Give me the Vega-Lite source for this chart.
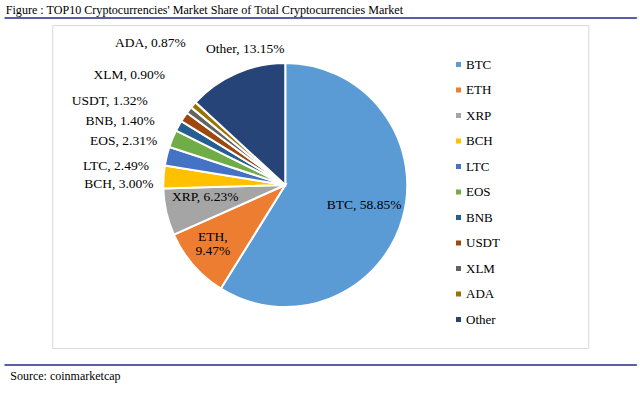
{
  "$schema": "https://vega.github.io/schema/vega-lite/v6.json",
  "padding": {"left": 3, "right": 5, "top": 4, "bottom": 5},
  "title": {
    "text": "Figure : TOP10 Cryptocurrencies' Market Share of Total Cryptocurrencies Market",
    "anchor": "start", "frame": "bounds", "font": "Liberation Serif", "fontSize": 12.1,
    "fontWeight": "normal", "color": "#000000", "offset": 0, "dx": 2
  },
  "config": {"view": {"stroke": null}, "font": "Liberation Serif"},
  "datasets": {
    "crypto": [
      {"name": "BTC", "share": 58.85, "order": 1},
      {"name": "ETH", "share": 9.47, "order": 2},
      {"name": "XRP", "share": 6.23, "order": 3},
      {"name": "BCH", "share": 3.00, "order": 4},
      {"name": "LTC", "share": 2.49, "order": 5},
      {"name": "EOS", "share": 2.31, "order": 6},
      {"name": "BNB", "share": 1.40, "order": 7},
      {"name": "USDT", "share": 1.32, "order": 8},
      {"name": "XLM", "share": 0.90, "order": 9},
      {"name": "ADA", "share": 0.87, "order": 10},
      {"name": "Other", "share": 13.15, "order": 11}
    ],
    "blank": []
  },
  "spacing": 5,
  "center": true,
  "vconcat": [
    {
      "width": 632, "height": 1,
      "data": {"name": "blank"},
      "mark": {"type": "text", "text": ""},
      "encoding": {},
      "view": {"stroke": "#5c5fa8", "strokeWidth": 1}
    },
    {
      "width": 536, "height": 323,
      "view": {"stroke": "#d9d9d9", "strokeWidth": 1},
      "data": {"name": "crypto"},
      "transform": [
        {"stack": "share", "groupby": [], "sort": [{"field": "order", "order": "ascending"}], "as": ["s0", "s1"]},
        {"calculate": "(datum.s0 + datum.s1) / 2", "as": "mid"},
        {"calculate": "datum.name + ', ' + format(datum.share, '.2f') + '%'", "as": "label"},
        {"calculate": "datum.name + ',\\n' + format(datum.share, '.2f') + '%'", "as": "label2"}
      ],
      "layer": [
        {
          "mark": {"type": "arc", "radius": 122, "x": 233, "y": 160, "stroke": "#ffffff", "strokeWidth": 2},
          "encoding": {
            "theta": {"field": "s0", "type": "quantitative", "scale": {"domain": [0, 99.99]}},
            "theta2": {"field": "s1"},
            "color": {
              "field": "name", "type": "nominal",
              "scale": {
                "domain": ["BTC", "ETH", "XRP", "BCH", "LTC", "EOS", "BNB", "USDT", "XLM", "ADA", "Other"],
                "range": ["#5B9BD5", "#ED7D31", "#A5A5A5", "#FFC000", "#4472C4", "#70AD47", "#255E91", "#9E480E", "#636363", "#997300", "#264478"]
              },
              "legend": {
                "orient": "none", "legendX": 448, "legendY": 41, "title": null,
                "symbolType": "square", "symbolSize": 25, "symbolStrokeWidth": 0,
                "labelFont": "Liberation Serif", "labelFontSize": 13, "labelColor": "#000000",
                "labelOffset": 1, "rowPadding": 11.5, "padding": 0
              }
            },
            "order": {"field": "order", "type": "quantitative"}
          }
        },
        {
          "transform": [{"filter": "datum.name == 'BTC'"}],
          "mark": {"type": "text", "radius": 82, "x": 233, "y": 160, "dy": -3, "font": "Liberation Serif", "fontSize": 13.5, "color": "#000000", "align": "center", "baseline": "middle"},
          "encoding": {"theta": {"field": "mid", "type": "quantitative"}, "text": {"field": "label"}}
        },
        {
          "transform": [{"filter": "datum.name == 'XRP'"}],
          "mark": {"type": "text", "radius": 82, "x": 233, "y": 160, "dy": -6, "font": "Liberation Serif", "fontSize": 13.5, "color": "#000000", "align": "center", "baseline": "middle"},
          "encoding": {"theta": {"field": "mid", "type": "quantitative"}, "text": {"field": "label"}}
        },
        {
          "transform": [{"filter": "datum.name == 'ETH'"}],
          "mark": {"type": "text", "radius": 96, "x": 233, "y": 160, "dy": -11, "font": "Liberation Serif", "fontSize": 13.5, "color": "#000000", "align": "center", "baseline": "middle", "lineBreak": "\n", "lineHeight": 14},
          "encoding": {"theta": {"field": "mid", "type": "quantitative"}, "text": {"field": "label2"}}
        },
        {
          "transform": [{"filter": "datum.name == 'Other'"}],
          "mark": {"type": "text", "radius": 142, "x": 233, "y": 160, "dx": 17, "dy": -6, "font": "Liberation Serif", "fontSize": 13.5, "color": "#000000", "align": "center", "baseline": "middle"},
          "encoding": {"theta": {"field": "mid", "type": "quantitative"}, "text": {"field": "label"}}
        },
        {
          "transform": [{"filter": "datum.name == 'BCH'"}],
          "mark": {"type": "text", "radius": 132, "x": 233, "y": 160, "dx": 0, "dy": 8, "font": "Liberation Serif", "fontSize": 13.5, "color": "#000000", "align": "right", "baseline": "middle"},
          "encoding": {"theta": {"field": "mid", "type": "quantitative"}, "text": {"field": "label"}}
        },
        {
          "transform": [{"filter": "datum.name == 'LTC'"}],
          "mark": {"type": "text", "radius": 132, "x": 233, "y": 160, "dx": -8, "dy": 12, "font": "Liberation Serif", "fontSize": 13.5, "color": "#000000", "align": "right", "baseline": "middle"},
          "encoding": {"theta": {"field": "mid", "type": "quantitative"}, "text": {"field": "label"}}
        },
        {
          "transform": [{"filter": "datum.name == 'EOS'"}],
          "mark": {"type": "text", "radius": 132, "x": 233, "y": 160, "dx": -6, "dy": 6, "font": "Liberation Serif", "fontSize": 13.5, "color": "#000000", "align": "right", "baseline": "middle"},
          "encoding": {"theta": {"field": "mid", "type": "quantitative"}, "text": {"field": "label"}}
        },
        {
          "transform": [{"filter": "datum.name == 'BNB'"}],
          "mark": {"type": "text", "radius": 132, "x": 233, "y": 160, "dx": -15, "dy": 0, "font": "Liberation Serif", "fontSize": 13.5, "color": "#000000", "align": "right", "baseline": "middle"},
          "encoding": {"theta": {"field": "mid", "type": "quantitative"}, "text": {"field": "label"}}
        },
        {
          "transform": [{"filter": "datum.name == 'USDT'"}],
          "mark": {"type": "text", "radius": 132, "x": 233, "y": 160, "dx": -28, "dy": -10, "font": "Liberation Serif", "fontSize": 13.5, "color": "#000000", "align": "right", "baseline": "middle"},
          "encoding": {"theta": {"field": "mid", "type": "quantitative"}, "text": {"field": "label"}}
        },
        {
          "transform": [{"filter": "datum.name == 'XLM'"}],
          "mark": {"type": "text", "radius": 132, "x": 233, "y": 160, "dx": -16, "dy": -29, "font": "Liberation Serif", "fontSize": 13.5, "color": "#000000", "align": "right", "baseline": "middle"},
          "encoding": {"theta": {"field": "mid", "type": "quantitative"}, "text": {"field": "label"}}
        },
        {
          "transform": [{"filter": "datum.name == 'ADA'"}],
          "mark": {"type": "text", "radius": 132, "x": 233, "y": 160, "dx": 0, "dy": -55, "font": "Liberation Serif", "fontSize": 13.5, "color": "#000000", "align": "right", "baseline": "middle"},
          "encoding": {"theta": {"field": "mid", "type": "quantitative"}, "text": {"field": "label"}}
        }
      ]
    },
    {
      "width": 632, "height": 4,
      "data": {"name": "blank"},
      "mark": {"type": "text", "text": ""},
      "encoding": {}
    },
    {
      "width": 632, "height": 1,
      "data": {"name": "blank"},
      "mark": {"type": "text", "text": ""},
      "encoding": {},
      "view": {"stroke": "#5c5fa8", "strokeWidth": 1},
      "title": {
        "text": "Source: coinmarketcap", "orient": "bottom", "anchor": "start", "frame": "group",
        "font": "Liberation Serif", "fontSize": 12, "fontWeight": "normal", "color": "#000000",
        "offset": 6, "dx": 6
      }
    }
  ]
}
